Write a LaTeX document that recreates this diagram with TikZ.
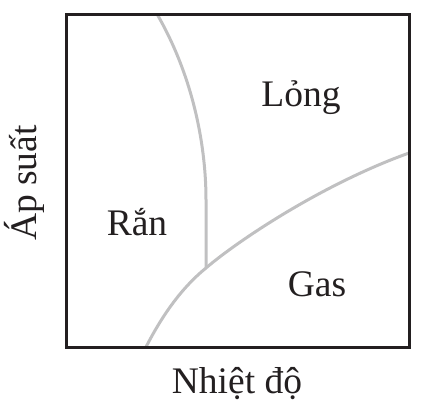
\documentclass[tikz,border=0pt]{standalone}
\usepackage{fontspec}
\setmainfont{Liberation Serif}
\begin{document}
\begin{tikzpicture}[x=1pt,y=-1pt]
			\useasboundingbox (0,0) rectangle (427,413);
			\tikzset{phaseline/.style={color={rgb,255:red,192;green,192;blue,193}, line width=3pt}, region/.style={font=\fontsize{37.5}{40}\selectfont, text={rgb,255:red,35;green,31;blue,32}}}
			\coordinate (tp) at (206,268);
			\coordinate (top) at (157,14);
			\coordinate (low) at (146,347);
			\coordinate (right) at (409,153);
			\draw[phaseline] (top) .. controls (195,80) and (206,150) .. (206,200) -- (tp);
			\draw[phaseline] (low) .. controls (165,310) and (185,285) .. (tp) .. controls (235,243) and (320,185) .. (right);
			\draw[color={rgb,255:red,35;green,31;blue,32}, line width=3pt] (66,14) rectangle (409,347);
			\node[region] (liquid) at (301,98) {Lỏng};
			\node[region] (solid) at (137,222) {Rắn};
			\node[region] (gas) at (317,284) {Gas};
			\node[region] (xlabel) at (237,384) {Nhiệt độ};
			\node[region, rotate=90] (ylabel) at (24,183) {Áp suất};
		\end{tikzpicture}
\end{document}
